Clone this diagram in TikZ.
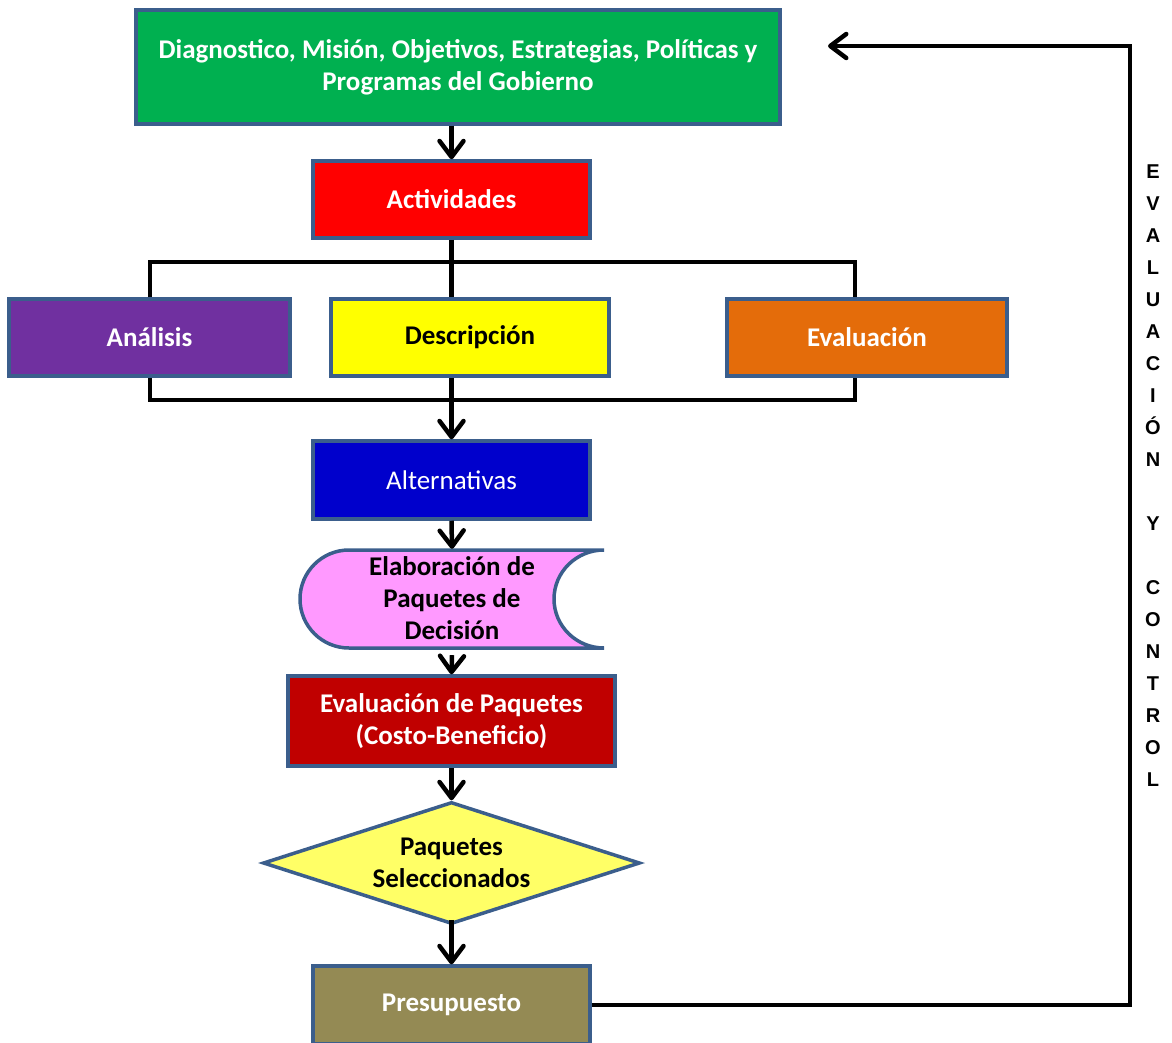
\documentclass[tikz,border=0pt]{standalone}
\usepackage{fontspec}
\setmainfont{Carlito}
\newfontfamily\arialfont{Liberation Sans}
\usetikzlibrary{shapes.geometric,arrows.meta}
\definecolor{bord}{HTML}{3B5E8C}
\definecolor{cgreen}{HTML}{00B050}
\definecolor{cred}{HTML}{FF0000}
\definecolor{cpurple}{HTML}{7030A0}
\definecolor{cyellow}{HTML}{FFFF00}
\definecolor{corange}{HTML}{E46C0A}
\definecolor{cblue}{HTML}{0000CC}
\definecolor{cpink}{HTML}{FF99FF}
\definecolor{cdred}{HTML}{C00000}
\definecolor{cdiam}{HTML}{FFFF66}
\definecolor{colive}{HTML}{948A54}
\begin{document}
\begin{tikzpicture}[x=1pt,y=-1pt,
  boxstyle/.style={draw=bord, line width=3.5pt, rectangle, align=center, inner sep=0pt,
    font=\fontsize{27}{32}\selectfont\bfseries},
  conn/.style={line width=4.5pt, black, line join=miter},
  arr/.style={conn, -{Straight Barb[length=16pt,width=24pt,line width=4.5pt,round]}}
]
\useasboundingbox (0,0) rectangle (1172,1043);
\fill[white] (0,0) rectangle (1172,1043);

\node[boxstyle, fill=cgreen, text=white, minimum width=644pt, minimum height=114pt] (green) at (458,67)
  {Diagnostico, Misión, Objetivos, Estrategias, Políticas y\\Programas del Gobierno};
\node[boxstyle, fill=cred, text=white, minimum width=277pt, minimum height=77pt] (act) at (451.5,199.5) {Actividades};
\node[boxstyle, fill=cpurple, text=white, minimum width=281pt, minimum height=77pt] (ana) at (149.5,337.5) {Análisis};
\node[boxstyle, fill=cyellow, text=black, minimum width=278pt, minimum height=77pt] (desc) at (470,337.5) {Descripción};
\node[boxstyle, fill=corange, text=white, minimum width=280pt, minimum height=77pt] (eva) at (867,337.5) {Evaluación};
\node[boxstyle, fill=cblue, text=white, minimum width=277pt, minimum height=78pt,
  font=\fontsize{27}{32}\selectfont] (alt) at (451.5,480) {Alternativas};

% stored data shape
\draw[draw=bord, line width=3.5pt, fill=cpink]
  (604,550) -- (349,550) arc[start angle=270, end angle=90, radius=49]
  -- (604,648) arc[start angle=90, end angle=270, x radius=50, y radius=49] -- cycle;
\node[align=center, inner sep=0pt, minimum width=304pt, minimum height=98pt,
  font=\fontsize{27}{32}\selectfont\bfseries] (elab) at (452,598)
  {Elaboración de\\Paquetes de\\Decisión};

\node[boxstyle, fill=cdred, text=white, minimum width=327pt, minimum height=90pt] (evp) at (451.5,721)
  {Evaluación de Paquetes\\(Costo-Beneficio)};
\node[diamond, draw=bord, line width=3.5pt, fill=cdiam, align=center, inner sep=0pt,
  minimum width=377pt, minimum height=122pt, aspect=3.1,
  font=\fontsize{27}{32}\selectfont\bfseries] (sel) at (451.5,863) {Paquetes\\Seleccionados};
\node[boxstyle, fill=colive, text=white, minimum width=277pt, minimum height=78pt] (pre) at (451.5,1005) {Presupuesto};

% connectors
\draw[arr] (green.south -| act.north) -- (act.north);
\coordinate (tl) at (150,262);
\coordinate (tr) at (855,262);
\coordinate (bl) at (150,400);
\coordinate (br) at (855,400);
\draw[conn] (ana.north -| tl) -- (tl) -- (tr) -- (eva.north -| tr);
\draw[conn] (act.south) -- (desc.north -| act.south);
\draw[conn] (ana.south -| bl) -- (bl) -- (br) -- (eva.south -| br);
\draw[conn] (desc.south -| act.south) -- (bl -| act.south);
\draw[arr] (bl -| act.south) -- (alt.north);
\draw[arr] (alt.south) -- (elab.north);
\draw[arr] ([yshift=-8pt]elab.south) -- (evp.north);
\draw[arr] (evp.south) -- (sel.north);
\draw[arr] ([yshift=6pt]sel.south) -- (pre.north);

\coordinate (fbr) at (1130,1005);
\coordinate (fbt) at (1130,46);
\coordinate (fbend) at (828,46);
\draw[arr] (pre.east) -- (fbr) -- (fbt) -- (fbend);

\node[align=center, inner sep=0pt, font=\arialfont\bfseries\fontsize{20}{32}\selectfont] (vt) at (1153,476)
  {E\\V\\A\\L\\U\\A\\C\\I\\Ó\\N\\\mbox{}\\Y\\\mbox{}\\C\\O\\N\\T\\R\\O\\L};
\end{tikzpicture}
\end{document}
